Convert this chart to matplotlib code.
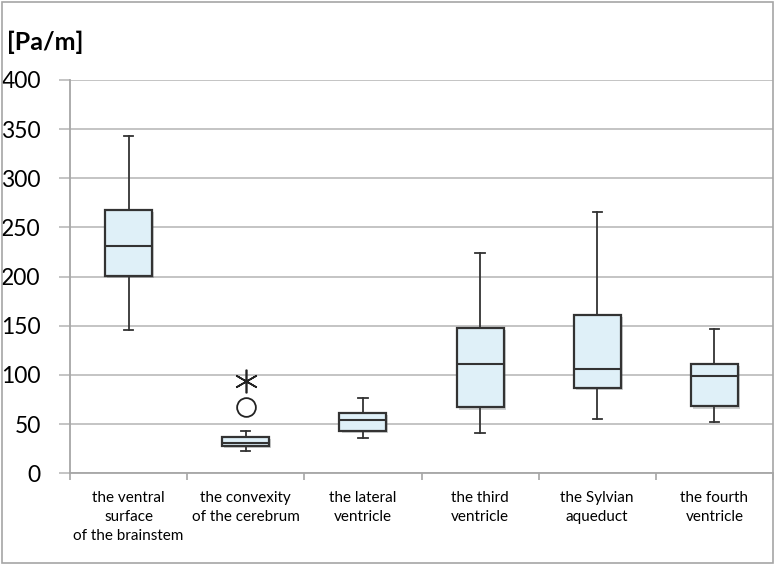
import matplotlib
matplotlib.use('Agg')
import matplotlib.pyplot as plt
import matplotlib.patheffects as pe
from matplotlib.patches import Rectangle

plt.rcParams['font.family'] = ['Lato', 'DejaVu Sans']

# values [Pa/m]
categories = ['the ventral\nsurface\nof the brainstem', 'the convexity\nof the cerebrum',
              'the lateral\nventricle', 'the third\nventricle', 'the Sylvian\naqueduct',
              'the fourth\nventricle']
whisker_low = [146, 23, 36, 41, 55, 52]
q1 = [201, 28, 43, 67, 87, 68]
median = [231, 31, 54, 111, 106, 99]
q3 = [268, 37, 61, 148, 161, 111]
whisker_high = [343, 43, 77, 224, 266, 147]
outliers_circle = [[], [67.5], [], [], [], []]
outliers_star = [[], [94], [], [], [], []]
y_ticks = [0, 50, 100, 150, 200, 250, 300, 350, 400]

fig = plt.figure(figsize=(7.75, 5.65), dpi=100)
ax = fig.add_axes([70 / 775, 1 - 473.3 / 565, 703 / 775, 393.3 / 565])

stats = []
for i, name in enumerate(categories):
    stats.append({'label': name, 'whislo': whisker_low[i], 'q1': q1[i], 'med': median[i],
                  'q3': q3[i], 'whishi': whisker_high[i], 'fliers': []})

positions = list(range(1, len(categories) + 1))
edge = '#333333'
res = ax.bxp(stats, positions=positions, widths=0.4, patch_artist=True, showfliers=False,
             capwidths=0.08,
             boxprops=dict(facecolor='#dff0f8', edgecolor=edge, linewidth=1.6),
             medianprops=dict(color=edge, linewidth=1.5),
             whiskerprops=dict(color=edge, linewidth=1.3),
             capprops=dict(color=edge, linewidth=1.3))
for box in res['boxes']:
    box.set_path_effects([pe.SimplePatchShadow(offset=(1.5, -1.5), alpha=0.25), pe.Normal()])
    box.set_zorder(3)
for med in res['medians']:
    med.set_zorder(4)

for pos, vals in zip(positions, outliers_circle):
    if vals:
        ax.plot([pos] * len(vals), vals, 'o', ms=13.5, mfc='white', mec='#222222', mew=1.3, zorder=4)
for pos, vals in zip(positions, outliers_star):
    if vals:
        ax.plot([pos] * len(vals), vals, marker=(6, 2, 0), ms=17, color='#222222', mew=1.2,
                ls='none', zorder=4)

ax.set_xlim(0.5, len(categories) + 0.5)
ax.set_ylim(0, 400)
ax.set_yticks(y_ticks)
ax.set_yticklabels([str(v) for v in y_ticks], fontsize=16.5)
ax.yaxis.grid(True, color='#bfbfbf', linewidth=1.3)
ax.set_axisbelow(True)

ax.set_xticks(positions)
ax.set_xticklabels(categories, fontsize=11, linespacing=1.42, va='top')
ax.set_xticks([p + 0.5 for p in range(len(categories) + 1)], minor=True)
ax.tick_params(axis='x', which='major', length=0, pad=13)
ax.tick_params(axis='x', which='minor', length=5, color='#a6a6a6', width=1.2)
ax.tick_params(axis='y', length=8, color='#bfbfbf', width=1.3, pad=13)

for side in ['top', 'right']:
    ax.spines[side].set_visible(False)
for side in ['left', 'bottom']:
    ax.spines[side].set_color('#a6a6a6')
    ax.spines[side].set_linewidth(1.3)

fig.text(7 / 775, 1 - 42 / 565, '[Pa/m]', fontsize=18, fontweight='bold', va='center', ha='left')
fig.patches.append(Rectangle((2 / 775, 2 / 565), 771 / 775, 561 / 565, transform=fig.transFigure,
                             fill=False, edgecolor='#a6a6a6', linewidth=1.2))

fig.savefig('out.png', dpi=100)
